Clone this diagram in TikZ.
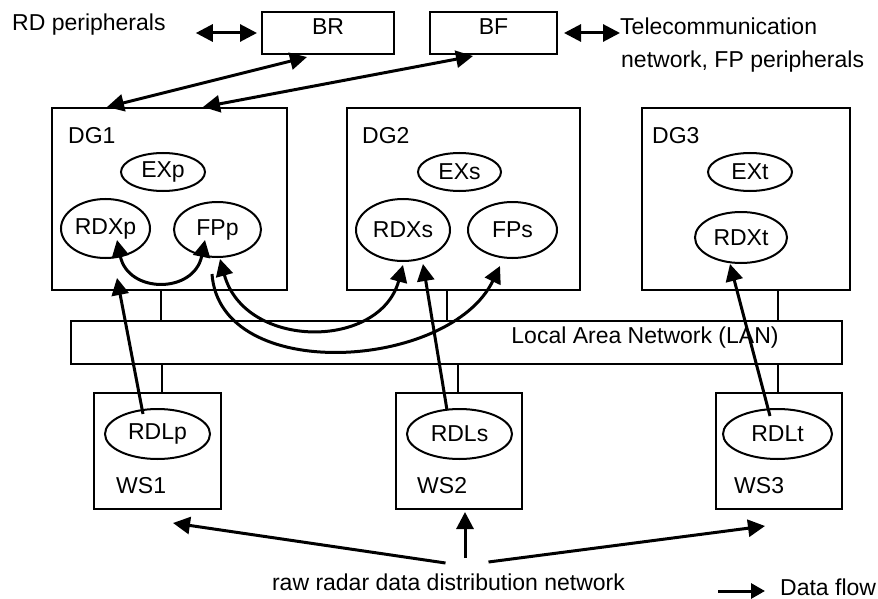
\documentclass[tikz,border=0pt]{standalone}
\usepackage{fontspec}
\setmainfont{Liberation Sans}
\usetikzlibrary{shapes.geometric,arrows.meta,calc}
\begin{document}
\begin{tikzpicture}[x=1pt,y=-1pt,
  every node/.style={font=\fontsize{23}{27}\selectfont, inner sep=0pt},
  box/.style={draw, line width=2pt, rectangle},
  proc/.style={draw, line width=2pt, ellipse},
  link/.style={line width=2pt},
  flow/.style={line width=3pt, -{Triangle[length=17pt,width=17pt]}},
  bflow/.style={line width=3pt, {Triangle[length=17pt,width=17pt]}-{Triangle[length=17pt,width=17pt]}},
  lbl/.style={anchor=base west},
  ctr/.style={anchor=base}]
\useasboundingbox (0,0) rectangle (878,599);

% boxes
\node[box, minimum width=132, minimum height=42] (BR) at (328,33) {};
\node[ctr] (BRt) at (328,35) {BR};
\node[box, minimum width=127, minimum height=42] (BF) at (493.5,33) {};
\node[ctr] (BFt) at (493.5,35) {BF};
\node[box, minimum width=235, minimum height=182] (DG1) at (169.5,199) {};
\node[box, minimum width=233, minimum height=182] (DG2) at (463.5,199) {};
\node[box, minimum width=208, minimum height=182] (DG3) at (746,199) {};
\node[box, minimum width=771, minimum height=43] (LAN) at (456.5,342.5) {};
\node[box, minimum width=127, minimum height=116] (WS1) at (157.5,451) {};
\node[box, minimum width=126, minimum height=116] (WS2) at (459,451) {};
\node[box, minimum width=126, minimum height=116] (WS3) at (779,451) {};

% labels
\node[lbl] (RDper) at (12,31) {RD peripherals};
\node[lbl] (tel1) at (620,35) {Telecommunication};
\node[lbl] (tel2) at (621,68) {network, FP peripherals};
\node[lbl] (DG1t) at (68,143) {DG1};
\node[lbl] (DG2t) at (362,143) {DG2};
\node[lbl] (DG3t) at (652,143) {DG3};
\node[lbl] (WS1t) at (116,493) {WS1};
\node[lbl] (WS2t) at (417,493) {WS2};
\node[lbl] (WS3t) at (734,493) {WS3};
\node[ctr] (lant) at (645,343) {Local Area Network (LAN)};
\node[ctr] (raw) at (448.5,590) {raw radar data distribution network};
\node[lbl] (df) at (780,595) {Data flow};

% processes
\node[proc, minimum width=84, minimum height=38] (EXp) at (163,172) {EXp};
\node[proc, minimum width=89, minimum height=59] (RDXp) at (105.5,228.5) {RDXp};
\node[proc, minimum width=87, minimum height=55] (FPp) at (217.5,229.5) {FPp};
\node[proc, minimum width=83, minimum height=38] (EXs) at (459.5,172) {EXs};
\node[proc, minimum width=94, minimum height=62] (RDXs) at (403,230) {RDXs};
\node[proc, minimum width=89, minimum height=56] (FPs) at (512.5,230) {FPs};
\node[proc, minimum width=84, minimum height=38] (EXt) at (750,172) {EXt};
\node[proc, minimum width=92, minimum height=51] (RDXt) at (741,237.5) {RDXt};
\node[proc, minimum width=105, minimum height=50] (RDLp) at (157.5,434) {RDLp};
\node[proc, minimum width=105, minimum height=50] (RDLs) at (459.5,434) {RDLs};
\node[proc, minimum width=109, minimum height=50] (RDLt) at (777.5,434) {RDLt};

% LAN attachments
\draw[link] (DG1.south -| 161,0) -- (LAN.north -| 161,0);
\draw[link] (DG2.south -| 447,0) -- (LAN.north -| 447,0);
\draw[link] (DG3.south -| 778,0) -- (LAN.north -| 778,0);
\draw[link] (LAN.south -| 162,0) -- (WS1.north -| 162,0);
\draw[link] (LAN.south -| 458,0) -- (WS2.north -| 458,0);
\draw[link] (LAN.south -| 778,0) -- (WS3.north -| 778,0);

% top arrows
\coordinate (rdl) at ([xshift=30]RDper.east |- BR.west);
\draw[bflow] (rdl) -- ([xshift=-4]BR.west);
\draw[bflow] ([xshift=6]BF.east) -- (tel1.west |- BF.east);
\draw[bflow] ([shift={(-62.5,0)}]DG1.north) -- ([shift={(-21,2)}]BR.south);
\draw[bflow] ([shift={(33.5,0)}]DG1.north) -- ([shift={(-20.5,1)}]BF.south);

% RDL -> RDX
\draw[flow] ([shift={(-14.5,6)}]RDLp.north) -- ([shift={(11.5,19)}]RDXp.south);
\draw[flow] ([shift={(-12.5,2)}]RDLs.north) -- ([shift={(20,2)}]RDXs.south);
\draw[flow] ([shift={(-7.5,8)}]RDLt.north) -- ([shift={(-11,0)}]RDXt.south);

% curves
\draw[bflow] ([shift={(11.5,-19)}]RDXp.south) .. controls (128,294) and (194,294) .. ([shift={(-12.5,-18)}]FPp.south);
\draw[bflow] ([shift={(2.5,1)}]FPp.south) .. controls (245,350) and (380,350) .. ([shift={(0,3)}]RDXs.south);
\draw[flow] ([shift={(-5.5,16)}]FPp.south) .. controls (220,385) and (450,370) .. ([shift={(-12.5,7)}]FPs.south);

% raw radar distribution
\draw[flow] ([shift={(-3,-27)}]raw.base) -- ([shift={(15.5,13)}]WS1.south);
\draw[flow] ([shift={(16.5,-32)}]raw.base) -- ([shift={(6,2)}]WS2.south);
\draw[flow] ([shift={(40,-28)}]raw.base) -- ([shift={(-14,16)}]WS3.south);

% legend
\coordinate (dfs) at (718,591);
\draw[line width=3pt, -{Triangle[length=14pt,width=15pt]}] (dfs) -- ([shift={(-15,-4)}]df.base west);
\end{tikzpicture}
\end{document}
